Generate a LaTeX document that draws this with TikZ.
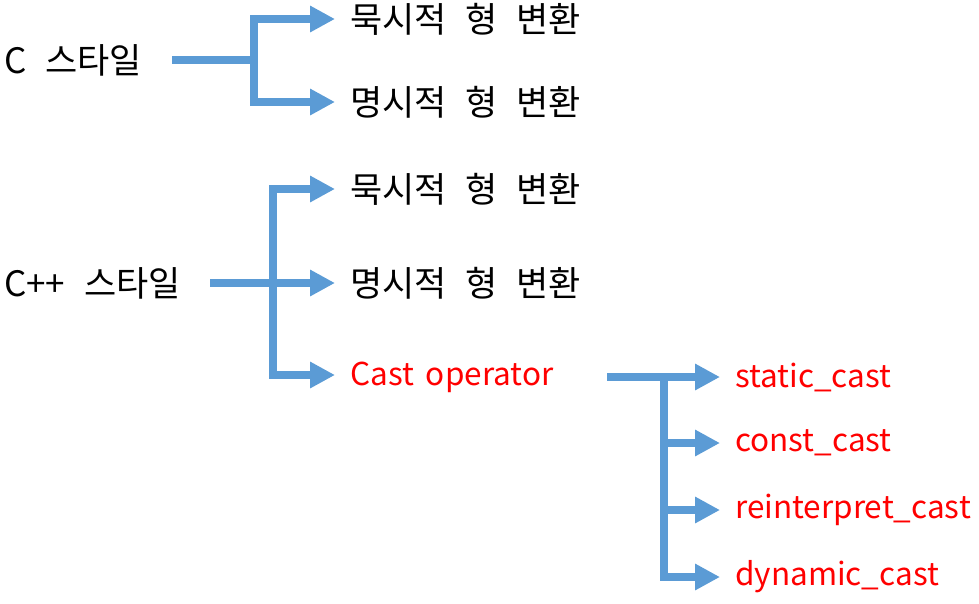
\documentclass[tikz,border=0pt]{standalone}
\usepackage{fontspec}
\setmainfont{Noto Sans CJK KR}[WordSpace=1.7]
\newfontfamily\kofont{Noto Sans CJK KR}[WordSpace=2.4]
\usetikzlibrary{arrows.meta}
\definecolor{lineblue}{HTML}{5B9BD5}
\begin{document}
\begin{tikzpicture}[x=1pt,y=-1pt,
  conn/.style={draw=lineblue,line width=8pt},
  arr/.style={conn,-{Triangle[length=25pt,width=25pt]}},
  darr/.style={conn,{Triangle[length=25pt,width=25pt]}-{Triangle[length=25pt,width=25pt]}},
  lbl/.style={anchor=west,inner sep=0pt,font=\kofont\fontsize{35}{40}\selectfont},
  redlbl/.style={anchor=west,inner sep=0pt,text=red,font=\fontsize{31.5}{36}\selectfont}]
\useasboundingbox (0,0) rectangle (979,603);
% group 1
\node[lbl] (c) at (4,60) {C 스타일};
\node[lbl] (c1) at (350,19) {묵시적 형 변환};
\node[lbl] (c2) at (350,102) {명시적 형 변환};
\coordinate (c1t) at (335,19);
\coordinate (c2t) at (335,102);
\coordinate (cs) at (172,60);
\draw[darr] (c1t) -- (254,19) -- (254,102) -- (c2t);
\draw[conn] (cs) -- (254,60);
% group 2
\node[lbl] (p) at (4,283) {C++ 스타일};
\node[lbl] (p1) at (350,189) {묵시적 형 변환};
\node[lbl] (p2) at (350,283) {명시적 형 변환};
\node[redlbl] (p3) at (350,377) {Cast operator};
\coordinate (p1t) at (335,189);
\coordinate (p2t) at (335,283);
\coordinate (p3t) at (335,375);
\coordinate (ps) at (210,283);
\draw[darr] (p1t) -- (273,189) -- (273,375) -- (p3t);
\draw[arr] (ps) -- (p2t);
% group 3
\node[redlbl] (s1) at (735,377) {static\_cast};
\node[redlbl] (s2) at (735,443) {const\_cast};
\node[redlbl] (s3) at (735,510) {reinterpret\_cast};
\node[redlbl] (s4) at (735,577) {dynamic\_cast};
\coordinate (qs) at (607,377);
\coordinate (s1t) at (720,377);
\coordinate (s2t) at (720,443);
\coordinate (s3t) at (720,510);
\coordinate (s4t) at (720,577);
\draw[arr] (qs) -- (s1t);
\draw[arr] (664,377) -- (664,577) -- (s4t);
\draw[arr] (664,443) -- (s2t);
\draw[arr] (664,510) -- (s3t);
\end{tikzpicture}
\end{document}
